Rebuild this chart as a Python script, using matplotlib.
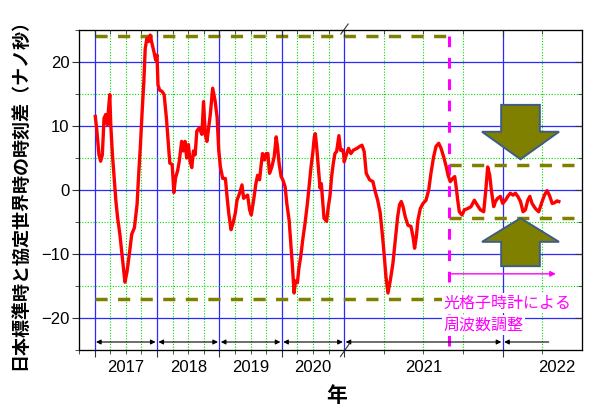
import numpy as np
import matplotlib
matplotlib.use('Agg')
import matplotlib.pyplot as plt
from matplotlib.patches import Polygon
from matplotlib.ticker import FixedLocator, MultipleLocator, NullFormatter

plt.rcParams['font.family'] = ['Liberation Sans', 'Noto Sans CJK JP']

# time difference UTC(NICT)-JST style curve, decimal year vs ns
years = [2017.011, 2017.032, 2017.070, 2017.097, 2017.124, 2017.151, 2017.178, 2017.205,
         2017.222, 2017.243, 2017.259, 2017.286, 2017.314, 2017.341, 2017.368, 2017.405,
         2017.438, 2017.465, 2017.486, 2017.519, 2017.557, 2017.595, 2017.638, 2017.681,
         2017.703, 2017.735, 2017.762, 2017.789, 2017.811, 2017.838, 2017.865, 2017.892,
         2017.919, 2017.951, 2017.978, 2018.000, 2018.016, 2018.043, 2018.081, 2018.114,
         2018.151, 2018.178, 2018.205, 2018.243, 2018.270, 2018.297, 2018.330, 2018.357,
         2018.395, 2018.422, 2018.449, 2018.476, 2018.503, 2018.530, 2018.557, 2018.584,
         2018.611, 2018.638, 2018.676, 2018.719, 2018.746, 2018.773, 2018.800, 2018.827,
         2018.854, 2018.892, 2018.930, 2018.963, 2018.989,
         2019.016, 2019.053, 2019.096, 2019.122, 2019.149, 2019.186, 2019.218, 2019.255,
         2019.282, 2019.324, 2019.362, 2019.388, 2019.426, 2019.452, 2019.484, 2019.511,
         2019.548, 2019.585, 2019.612, 2019.644, 2019.665, 2019.691, 2019.723, 2019.750,
         2019.777, 2019.803, 2019.840, 2019.878, 2019.910, 2019.931, 2019.957, 2019.989,
         2020.016, 2020.053, 2020.080, 2020.117, 2020.144, 2020.170, 2020.197, 2020.218,
         2020.250, 2020.271, 2020.303, 2020.335, 2020.372, 2020.410, 2020.441, 2020.468,
         2020.495, 2020.521, 2020.537, 2020.559, 2020.585, 2020.612, 2020.633, 2020.654,
         2020.676, 2020.718, 2020.745, 2020.771, 2020.798, 2020.824, 2020.851, 2020.878,
         2020.915, 2020.941, 2020.970, 2020.990,
         2021.000, 2021.013, 2021.027, 2021.042, 2021.059, 2021.080, 2021.097, 2021.112,
         2021.126, 2021.139, 2021.160, 2021.181, 2021.196, 2021.211, 2021.227, 2021.242,
         2021.253, 2021.263, 2021.276, 2021.291, 2021.307, 2021.322, 2021.337, 2021.349,
         2021.360, 2021.371, 2021.385, 2021.402, 2021.421, 2021.434, 2021.444, 2021.455,
         2021.465, 2021.480, 2021.497, 2021.516, 2021.533, 2021.547, 2021.564, 2021.579,
         2021.596, 2021.611, 2021.627, 2021.644, 2021.655, 2021.669, 2021.684, 2021.697,
         2021.707, 2021.716, 2021.726, 2021.743, 2021.758, 2021.779, 2021.800, 2021.821,
         2021.838, 2021.859, 2021.880, 2021.895, 2021.905, 2021.918, 2021.928, 2021.943,
         2021.954, 2021.968, 2021.985, 2022.000, 2022.017, 2022.032, 2022.048, 2022.065,
         2022.080, 2022.095, 2022.112, 2022.128, 2022.143, 2022.158, 2022.171, 2022.185,
         2022.206, 2022.227, 2022.244, 2022.263, 2022.280, 2022.297, 2022.312, 2022.326,
         2022.343, 2022.354]
diff_ns = [11.5, 9.7, 5.5, 4.5, 5.5, 11.2, 11.8, 10.2,
           12.5, 14.9, 10.2, 5.5, 1.9, -1.7, -4.3, -6.9,
           -10.0, -12.6, -14.4, -12.8, -10.0, -6.9, -5.9, -2.2,
           1.9, 7.1, 12.3, 16.9, 22.1, 23.7, 23.2, 24.2,
           22.9, 21.6, 20.3, 21.1, 16.4, 15.6, 15.4, 14.9,
           11.2, 7.6, 4.2, 4.0, -0.4, 1.9, 3.0, 4.5,
           7.6, 6.1, 7.6, 5.0, 7.1, 4.5, 3.5, 6.1,
           5.5, 9.2, 9.7, 8.7, 13.8, 8.7, 7.6, 9.7,
           11.8, 15.9, 14.0, 11.4, 6.2,
           3.6, 1.8, 1.8, -1.0, -3.6, -6.2, -5.2, -3.6,
           -1.6, -0.5, 0.8, -1.3, -1.0, -0.8, -3.1, -3.9,
           -1.6, 1.0, 2.3, 1.6, 3.6, 5.7, 4.7, 5.7,
           5.7, 2.6, 3.6, 5.2, 8.3, 6.7, 4.1, 2.1,
           1.6, 0.5, -2.1, -4.7, -8.3, -11.9, -16.1, -14.2,
           -14.5, -12.4, -10.4, -7.8, -5.2, -2.1, 1.0, 3.6,
           5.7, 8.3, 8.8, 6.7, 3.6, 0.3, 1.0, -1.6,
           -4.4, -4.9, -2.6, -1.0, 2.1, 4.1, 5.7, 6.0,
           8.5, 6.2, 6.3, 5.7,
           4.4, 5.5, 6.5, 5.7, 6.25, 6.5, 6.8, 7.0,
           6.0, 2.6, 1.6, 1.3, -0.3, -1.6, -3.6, -7.3,
           -10.4, -13.5, -16.1, -14.1, -11.5, -7.8, -4.2, -2.3,
           -1.8, -2.6, -4.2, -5.5, -5.7, -7.3, -9.1, -7.3,
           -4.7, -2.9, -2.1, -1.6, 0.0, 2.6, 5.2, 6.8,
           7.3, 6.5, 5.2, 3.6, 2.3, 1.3, 1.8, 2.1,
           0.3, -1.6, -3.4, -3.9, -3.1, -2.9, -2.6, -1.6,
           -2.3, -3.1, -3.4, 0.5, 3.6, 2.3, 0.0, -2.6,
           -1.8, -1.3, -1.0, -2.1, -1.6, -1.0, -0.5, -0.8,
           -0.5, -1.0, -1.8, -3.4, -3.1, -1.6, -1.0, -2.1,
           -2.9, -3.4, -2.1, -0.8, -0.1, -1.0, -2.1, -2.0,
           -1.7, -1.8]

year_bounds = [2017, 2018, 2019, 2020, 2021, 2022]
year_labels = ['2017', '2018', '2019', '2020', '2021', '2022']
label_pos = [2017.5, 2018.5, 2019.5, 2020.5, 2021.5, 2022.34]
last_span_end = 2022.29

old_upper, old_lower = 24.0, -17.0
steer_start = 2021.66
new_upper, new_lower = 3.9, -4.3

ann_line1 = '光格子時計による'
ann_line2 = '周波数調整'

# broken time axis: from 2021 on the scale is stretched
BREAK = 2021.0
STRETCH = 158 / 62.2


def fwd(t):
    t = np.asarray(t, dtype=float)
    return np.where(t <= BREAK, t - 2017, BREAK - 2017 + (t - BREAK) * STRETCH)


def inv(u):
    u = np.asarray(u, dtype=float)
    return np.where(u <= BREAK - 2017, u + 2017, BREAK + (u - (BREAK - 2017)) / STRETCH)


xlim = (2016.75, 2022.5)
ylim = (-25, 25)
quarters = [q for q in np.concatenate([np.arange(2016.75, 2021, 0.25),
                                       np.arange(2021.25, 2022.5, 0.25)])
            if q not in year_bounds]

fig = plt.figure(figsize=(6, 4.2), dpi=100)
ax = fig.add_axes([79 / 600, 70 / 420, 503 / 600, 320 / 420])
ax.set_xscale('function', functions=(fwd, inv))
ax.set_xlim(*xlim)
ax.set_ylim(*ylim)

ax.xaxis.set_major_locator(FixedLocator(year_bounds))
ax.xaxis.set_minor_locator(FixedLocator(quarters))
ax.xaxis.set_major_formatter(NullFormatter())
ax.xaxis.set_minor_formatter(NullFormatter())
ax.yaxis.set_major_locator(MultipleLocator(10))
ax.yaxis.set_minor_locator(MultipleLocator(5))
ax.grid(which='major', color='#2a2aff', lw=0.9)
ax.grid(which='minor', color='#00dd00', lw=0.8, ls=(0, (1, 1.5)))
ax.tick_params(which='both', direction='out', labelsize=12, color='#333333', pad=2)
ax.tick_params(which='major', length=5)
ax.tick_params(which='minor', length=3)
for s in ax.spines.values():
    s.set_color('#333333')

# inward ticks on top and right
axt = ax.twiny()
axt.set_xscale('function', functions=(fwd, inv))
axt.set_xlim(*xlim)
axt.xaxis.set_major_locator(FixedLocator(year_bounds))
axt.xaxis.set_minor_locator(FixedLocator(quarters))
axt.xaxis.set_major_formatter(NullFormatter())
axt.xaxis.set_minor_formatter(NullFormatter())
axt.tick_params(which='both', direction='in', color='#333333')
axt.tick_params(which='major', length=5)
axt.tick_params(which='minor', length=3)
axr = ax.twinx()
axr.set_ylim(*ylim)
axr.yaxis.set_major_locator(MultipleLocator(10))
axr.yaxis.set_minor_locator(MultipleLocator(5))
axr.yaxis.set_major_formatter(NullFormatter())
axr.tick_params(which='both', direction='in', color='#333333')
axr.tick_params(which='major', length=5)
axr.tick_params(which='minor', length=3)

# the data
ax.plot(years, diff_ns, color='#ff0000', lw=2.4, zorder=4)

olive = '#808000'
ax.plot([year_bounds[0], steer_start], [old_upper, old_upper], color=olive, lw=2.5,
        dashes=(3.5, 3), zorder=3)
ax.plot([year_bounds[0], steer_start], [old_lower, old_lower], color=olive, lw=2.5,
        dashes=(3.5, 3), zorder=3)
ax.plot([steer_start, xlim[1]], [new_upper, new_upper], color=olive, lw=2.5,
        dashes=(3.5, 3), zorder=3)
ax.plot([steer_start, xlim[1]], [new_lower, new_lower], color=olive, lw=2.5,
        dashes=(3.5, 3), zorder=3)
ax.plot([steer_start, steer_start], [old_upper, -24.3], color='#ff00ff', lw=2.2,
        dashes=(3.5, 3.5), zorder=3)

# big arrows squeezing the band
arr_x, shaft_w, head_w = 2022.112, 0.122, 0.243
down = [(13.3, 9.1, 4.8)]
up = [(-11.9, -8.1, -4.4)]
for tail, base, tip in down + up:
    verts = [(arr_x - shaft_w, tail), (arr_x + shaft_w, tail), (arr_x + shaft_w, base),
             (arr_x + head_w, base), (arr_x, tip), (arr_x - head_w, base),
             (arr_x - shaft_w, base)]
    ax.add_patch(Polygon(verts, closed=True, facecolor=olive, edgecolor='#3e5d85',
                         lw=1.4, zorder=5))

# magenta arrow and annotation
ax.annotate('', xy=(2022.335, -13.1), xytext=(steer_start, -13.1),
            arrowprops=dict(arrowstyle='-|>', color='#ff00ff', lw=1,
                            mutation_scale=8, shrinkA=0, shrinkB=0), zorder=5)
ax.text(2021.627, -17.7, ann_line1, color='#ff00ff', fontsize=11.5, ha='left', va='center',
        family=['Noto Sans CJK JP'], zorder=6,
        bbox=dict(facecolor='white', edgecolor='none', pad=1))
ax.text(2021.627, -21.1, ann_line2, color='#ff00ff', fontsize=11.5, ha='left', va='center',
        family=['Noto Sans CJK JP'], zorder=6,
        bbox=dict(facecolor='white', edgecolor='none', pad=1))

# year span arrows along the bottom
spans = list(zip(year_bounds[:-1], year_bounds[1:]))
for a, b in spans:
    ax.annotate('', xy=(b, -23.75), xytext=(a, -23.75),
                arrowprops=dict(arrowstyle='<|-|>', color='black', lw=0.8,
                                mutation_scale=7, shrinkA=1, shrinkB=1), zorder=5)
ax.annotate('', xy=(last_span_end, -23.75), xytext=(year_bounds[-1], -23.75),
            arrowprops=dict(arrowstyle='<|-', color='black', lw=0.8,
                            mutation_scale=7, shrinkA=1, shrinkB=0), zorder=5)

for p, s in zip(label_pos, year_labels):
    ax.text(p, -0.055, s, transform=ax.get_xaxis_transform(), ha='center', va='center',
            fontsize=12)

# axis break marks
ax.plot([BREAK], [ylim[1]], marker=[(4, 7), (-4, -4)], ms=10, mfc='none', mec='#333333',
        mew=0.8, clip_on=False, zorder=6)
ax.plot([BREAK], [ylim[0]], marker=[(5, 7), (-4, -6)], ms=11, mfc='none', mec='#333333',
        mew=0.8, clip_on=False, zorder=6)

fig.text(20 / 600, 1 - 190 / 420, '日本標準時と協定世界時の時刻差（ナノ秒）', rotation=90,
         ha='center', va='center', fontsize=13, fontweight='bold',
         family=['Noto Sans CJK JP'])
fig.text(337 / 600, 1 - 395 / 420, '年', ha='center', va='center', fontsize=15,
         fontweight='bold', family=['Noto Sans CJK JP'])

fig.savefig('out.png', dpi=100, facecolor='white')
